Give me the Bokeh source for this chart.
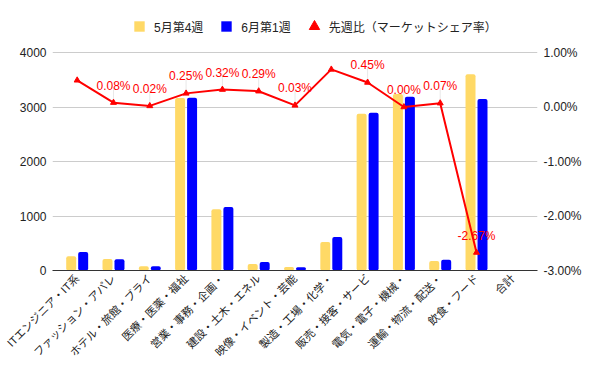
from bokeh.plotting import figure
from bokeh.models import (Range1d, LinearAxis, FixedTicker, PrintfTickFormatter,
                          ColumnDataSource, Legend, LegendItem)
from bokeh.transform import dodge
from bokeh.core.properties import value
from bokeh.embed import file_html
from bokeh.resources import INLINE
import math

categories = ["ITエンジニア・IT系", "ファッション・アパレ", "ホテル・旅館・ブライ", "医療・医薬・福祉",
              "営業・事務・企画・", "建設・土木・エネル", "映像・イベント・芸能", "製造・工場・化学・",
              "販売・接客・サービ", "電気・電子・機械・", "運輸・物流・配送・", "飲食・フード", "合計"]
may_w4 = [260, 210, 80, 3165, 1125, 120, 65, 525, 2875, 3240, 175, 3600]
jun_w1 = [340, 205, 80, 3170, 1165, 155, 60, 615, 2895, 3190, 195, 3145]
share_change = [0.49, 0.08, 0.02, 0.25, 0.32, 0.29, 0.03, 0.69, 0.45, 0.00, 0.07, -2.67]
label_shown = [False, True, True, True, True, True, True, False, True, True, True, True]
left_ticks = [0, 1000, 2000, 3000, 4000]
right_ticks = [-3, -2, -1, 0, 1]
series_names = ["5月第4週", "6月第1週", "先週比（マーケットシェア率）"]

FONT = "Liberation Sans, Noto Sans CJK JP, sans-serif"
YELLOW = "#ffd966"
BLUE = "#0000ff"
RED = "#ff0000"
TXT = "#222222"

# layout (pixels)
W, H = 600, 371
TOP, BOTTOM, LEFT, RIGHT = 14, 101, 52, 63
AXIS_H = 218                      # height of the 0..4000 axis span
frame_h = H - TOP - BOTTOM
head = frame_h / AXIS_H           # room above the top tick for the legend

n = len(may_w4)
xs = list(range(n))
src = ColumnDataSource(dict(x=xs, may=may_w4, jun=jun_w1, pct=share_change))
lab_src = ColumnDataSource(dict(
    x=[x for x, s in zip(xs, label_shown) if s],
    pct=[v for v, s in zip(share_change, label_shown) if s],
    lab=[f"{v:.2f}%" for v, s in zip(share_change, label_shown) if s]))

l0, l1 = left_ticks[0], left_ticks[-1]
r0, r1 = right_ticks[0], right_ticks[-1]
p = figure(width=W, height=H, output_backend="svg", toolbar_location=None,
           x_range=Range1d(-0.68, len(categories) - 1 + 0.68),
           y_range=Range1d(l0, l0 + (l1 - l0) * head),
           min_border_left=LEFT, min_border_right=RIGHT, min_border_top=TOP,
           min_border_bottom=BOTTOM)
p.outline_line_color = None
p.background_fill_color = "white"
p.border_fill_color = "white"
p.extra_y_ranges = {"pct": Range1d(r0, r0 + (r1 - r0) * head)}

# axes
p.yaxis.ticker = FixedTicker(ticks=left_ticks)
p.yaxis.axis_line_color = None
p.yaxis.major_tick_line_color = None
p.yaxis.minor_tick_line_color = None
p.yaxis.major_tick_out = 0
p.yaxis.major_label_standoff = 6
p.yaxis.major_label_text_font = FONT
p.yaxis.major_label_text_font_size = "12px"
p.yaxis.major_label_text_color = TXT

raxis = LinearAxis(y_range_name="pct", ticker=FixedTicker(ticks=right_ticks),
                   formatter=PrintfTickFormatter(format="%.2f%%"))
raxis.axis_line_color = None
raxis.major_tick_line_color = None
raxis.minor_tick_line_color = None
raxis.major_tick_out = 0
raxis.major_label_standoff = 6
raxis.major_label_text_font = FONT
raxis.major_label_text_font_size = "12px"
raxis.major_label_text_color = TXT
p.add_layout(raxis, "right")

p.xaxis.ticker = FixedTicker(ticks=list(range(len(categories))))
p.xaxis.major_label_overrides = {i: c for i, c in enumerate(categories)}
p.xaxis.major_label_orientation = math.pi / 4
p.xaxis.axis_line_color = "#333333"
p.xaxis.axis_line_width = 1
p.xaxis.major_tick_line_color = None
p.xaxis.minor_tick_line_color = None
p.xaxis.major_tick_out = 0
p.xaxis.major_tick_in = 0
p.xaxis.major_label_standoff = 6
p.xaxis.major_label_text_font = FONT
p.xaxis.major_label_text_font_size = "11px"
p.xaxis.major_label_text_color = TXT

p.xgrid.grid_line_color = None
p.ygrid.grid_line_color = "#cccccc"

# bars
p.vbar(x=dodge("x", -0.165, range=p.x_range), top="may", width=0.275, source=src,
       fill_color=YELLOW, line_color=None, border_radius=2)
p.vbar(x=dodge("x", 0.165, range=p.x_range), top="jun", width=0.275, source=src,
       fill_color=BLUE, line_color=None, border_radius=2)

# leader lines
p.ray(x="x", y="pct", length=15, angle=math.pi / 2, length_units="screen", source=lab_src,
      y_range_name="pct", line_color="#e8e8e8", line_width=1)

# line
p.line(x="x", y="pct", source=src, y_range_name="pct", line_color=RED, line_width=2)
r_tri = p.scatter(x="x", y="pct", source=src, y_range_name="pct", marker="triangle",
                  size=6, fill_color=RED, line_color=RED)

# value labels
p.text(x="x", y="pct", text="lab", source=lab_src, y_range_name="pct",
       text_align="center", text_baseline="alphabetic", y_offset=-17,
       text_font=value(FONT), text_font_size="12px", text_color=RED)

# legend swatches: zero-size square markers on the bar data (only visible in the legend)
sw_may = p.scatter(x="x", y="may", source=src, marker="square", size=0,
                   fill_color=YELLOW, line_color=None)
sw_jun = p.scatter(x="x", y="jun", source=src, marker="square", size=0,
                   fill_color=BLUE, line_color=None)

legend = Legend(items=[LegendItem(label=series_names[0], renderers=[sw_may]),
                       LegendItem(label=series_names[1], renderers=[sw_jun]),
                       LegendItem(label=series_names[2], renderers=[r_tri])],
                orientation="horizontal", location=(74, 231),
                glyph_width=26, glyph_height=26, label_height=26, label_standoff=2,
                spacing=10, padding=0, margin=0, border_line_color=None,
                background_fill_alpha=0,
                label_text_font=FONT, label_text_font_size="12px", label_text_color=TXT)
p.add_layout(legend, "center")

open("out.html", "w").write(file_html(p, INLINE))
